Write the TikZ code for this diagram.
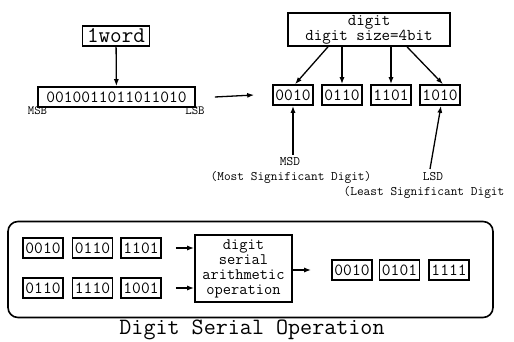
\documentclass[tikz,border=0pt]{standalone}
\usepackage{fontspec}
\usetikzlibrary{arrows.meta}
\begin{document}
\begin{tikzpicture}[x=1pt,y=-1pt,
 box/.style={draw, line width=1.6pt, inner sep=0pt, font=\ttfamily\fontsize{17}{17}\selectfont},
 dig/.style={box, minimum width=40pt, minimum height=20pt},
 arr/.style={-{Latex[length=7pt,width=5pt]}, line width=1.3pt},
 lbl/.style={inner sep=0pt, font=\ttfamily\fontsize{13}{13}\selectfont},
 sml/.style={inner sep=0pt, font=\ttfamily\fontsize{12.5}{12}\selectfont}]
\useasboundingbox (0,0) rectangle (514,342);
% top left
\node[box, minimum width=67pt, minimum height=20pt, font=\ttfamily\fontsize{22.5}{22}\selectfont] (w) at (116,36) {1word};
\node[box, minimum width=157pt, minimum height=20pt] (long) at (116.5,97) {0010011011011010};
\node[sml] (msb) at (37.5,111) {MSB};
\node[sml] (lsb) at (195,111) {LSB};
\draw[arr] (w) -- (long);
% digit box
\node[box, minimum width=162pt, minimum height=33pt, align=center, font=\ttfamily\fontsize{16.5}{14}\selectfont] (dg) at (369,29.5) {digit\\digit size=4bit};
\node[dig] (d1) at (293,95) {0010};
\node[dig] (d2) at (342,95) {0110};
\node[dig] (d3) at (391,95) {1101};
\node[dig] (d4) at (440,95) {1010};
\draw[arr] ([xshift=19pt]long.east) -- ([xshift=-18pt]d1.west);
\draw[arr] ([xshift=-41pt]dg.south) -- ([xshift=2pt]d1.north);
\draw[arr] ([xshift=-27pt]dg.south) -- (d2.north);
\draw[arr] ([xshift=22pt]dg.south) -- (d3.north);
\draw[arr] ([xshift=38pt]dg.south) -- ([xshift=3pt]d4.north);
% MSD / LSD
\node[lbl] (msd) at (290,162) {MSD};
\node[lbl] (msdl) at (291,177) {(Most Significant Digit)};
\draw[arr] (293,155) coordinate (m0) -- (d1.south);
\node[lbl] (lsd) at (433,177) {LSD};
\node[lbl] (lsdl) at (424,192) {(Least Significant Digit};
\draw[arr] (430,169) coordinate (l0) -- ([xshift=1pt]d4.south);
% bottom frame
\node[draw, line width=1.6pt, rounded corners=10pt, minimum width=485pt, minimum height=96pt, inner sep=0pt] (frame) at (250.5,269.5) {};
\node[dig] (a1) at (43,248) {0010};
\node[dig] (a2) at (92.5,248) {0110};
\node[dig] (a3) at (141,248) {1101};
\node[dig] (b1) at (43,288) {0110};
\node[dig] (b2) at (92.5,288) {1110};
\node[dig] (b3) at (141,288) {1001};
\node[box, minimum width=97pt, minimum height=67pt, align=center, font=\ttfamily\fontsize{16}{15}\selectfont] (op) at (243.5,268.5) {digit\\serial\\arithmetic\\operation};
\draw[arr] ([xshift=14pt]a3.east) -- (op.west |- a3);
\draw[arr] ([xshift=14pt]b3.east) -- (op.west |- b3);
\node[dig] (r1) at (352,270) {0010};
\node[dig] (r2) at (399.5,270) {0101};
\node[dig] (r3) at (449,270) {1111};
\draw[arr] (op.east |- r1) -- ([xshift=-20pt]r1.west);
\node[inner sep=0pt, font=\ttfamily\fontsize{23.4}{20}\selectfont] (cap) at (252,330) {Digit Serial Operation};
\end{tikzpicture}
\end{document}
